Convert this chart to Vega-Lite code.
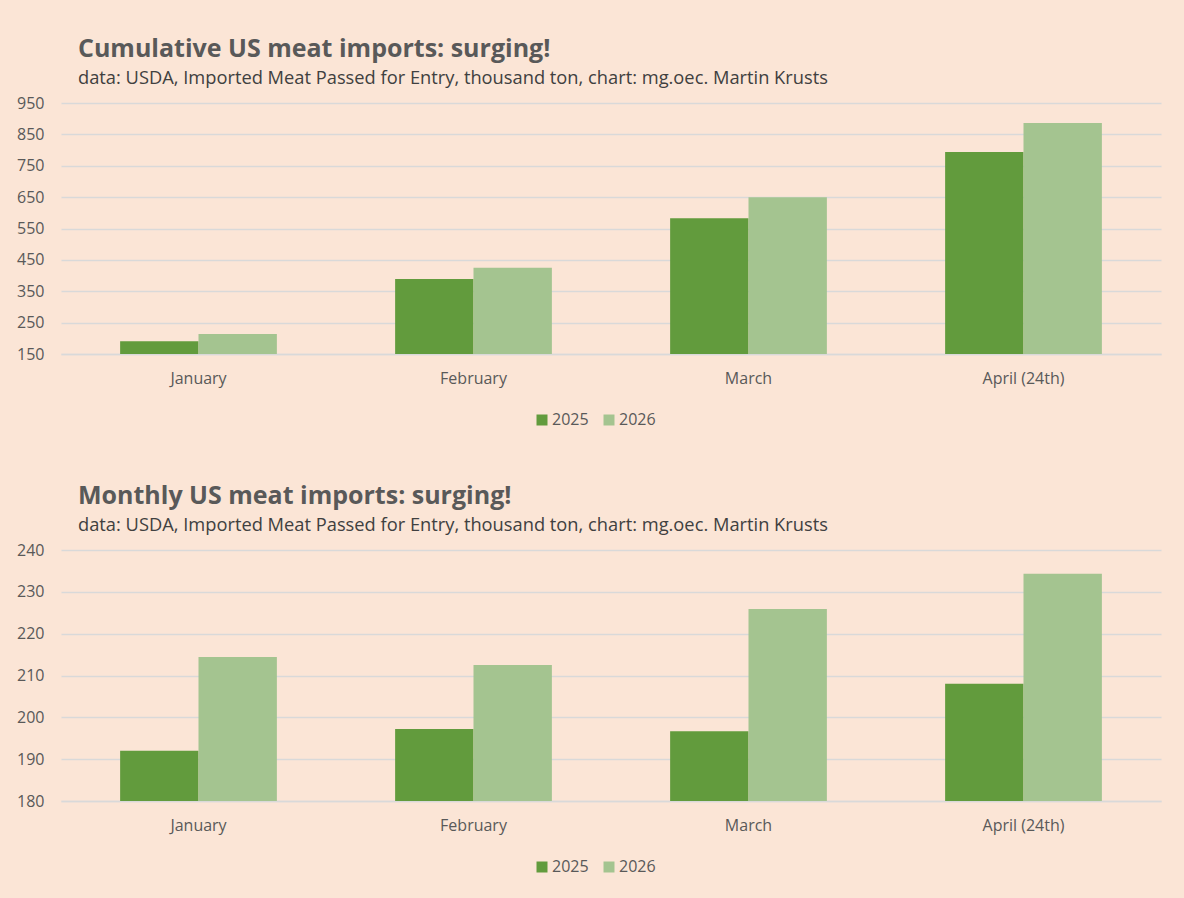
{
  "$schema": "https://vega.github.io/schema/vega-lite/v6.json",
  "background": "#FBE5D6",
  "padding": {"left": 16, "top": 36, "right": 23, "bottom": 25},
  "bounds": "flush",
  "spacing": 196,
  "datasets": {
    "cum": [
      {"month": "January", "year": "2025", "value": 191},
      {"month": "January", "year": "2026", "value": 214},
      {"month": "February", "year": "2025", "value": 389},
      {"month": "February", "year": "2026", "value": 425},
      {"month": "March", "year": "2025", "value": 583},
      {"month": "March", "year": "2026", "value": 650},
      {"month": "April (24th)", "year": "2025", "value": 794},
      {"month": "April (24th)", "year": "2026", "value": 886}
    ],
    "mon": [
      {"month": "January", "year": "2025", "value": 192.0},
      {"month": "January", "year": "2026", "value": 214.4},
      {"month": "February", "year": "2025", "value": 197.2},
      {"month": "February", "year": "2026", "value": 212.5},
      {"month": "March", "year": "2025", "value": 196.7},
      {"month": "March", "year": "2026", "value": 225.9},
      {"month": "April (24th)", "year": "2025", "value": 208.0},
      {"month": "April (24th)", "year": "2026", "value": 234.3}
    ]
  },
  "config": {
    "font": "Open Sans",
    "view": {"stroke": null},
    "title": {
      "anchor": "start",
      "frame": "group",
      "dx": 17,
      "fontSize": 25,
      "fontWeight": "bold",
      "color": "#595959",
      "subtitleFontSize": 18.3,
      "subtitleColor": "#404040",
      "subtitlePadding": 8,
      "offset": 8
    },
    "axis": {
      "labelFont": "Open Sans",
      "labelFontSize": 16,
      "labelColor": "#595959",
      "ticks": false,
      "title": null,
      "gridColor": "#D9D9D9",
      "gridWidth": 1.6,
      "domainColor": "#D9D9D9",
      "domainWidth": 1.6
    },
    "legend": {
      "labelFontSize": 16,
      "labelColor": "#595959",
      "symbolType": "square",
      "symbolSize": 121,
      "symbolStrokeWidth": 0,
      "direction": "horizontal",
      "orient": "none",
      "legendX": 473,
      "legendY": 309,
      "columnPadding": 12,
      "labelOffset": 2,
      "title": null
    }
  },
  "resolve": {"legend": {"color": "independent"}},
  "vconcat": [
    {
      "title": {"text": "Cumulative US meat imports: surging!", "subtitle": "data: USDA, Imported Meat Passed for Entry, thousand ton, chart: mg.oec. Martin Krusts"},
      "data": {"name": "cum"},
      "width": 1100,
      "height": 251,
      "mark": {"type": "bar", "clip": true},
      "encoding": {
        "x": {"field": "month", "type": "nominal", "sort": ["January", "February", "March", "April (24th)"],
          "scale": {"paddingInner": 0.43, "paddingOuter": 0.215},
          "axis": {"labelAngle": 0, "labelPadding": 16, "domain": true}},
        "xOffset": {"field": "year", "type": "nominal", "scale": {"paddingInner": 0}},
        "y": {"field": "value", "type": "quantitative",
          "scale": {"domain": [150, 950], "zero": false, "nice": false},
          "axis": {"values": [150, 250, 350, 450, 550, 650, 750, 850, 950], "domain": false, "labelPadding": 17, "grid": true}},
        "y2": {"datum": 150},
        "color": {"field": "year", "type": "nominal", "scale": {"domain": ["2025", "2026"], "range": ["#629B3D", "#A4C490"]}}
      }
    },
    {
      "title": {"text": "Monthly US meat imports: surging!", "subtitle": "data: USDA, Imported Meat Passed for Entry, thousand ton, chart: mg.oec. Martin Krusts"},
      "data": {"name": "mon"},
      "width": 1100,
      "height": 251,
      "mark": {"type": "bar", "clip": true},
      "encoding": {
        "x": {"field": "month", "type": "nominal", "sort": ["January", "February", "March", "April (24th)"],
          "scale": {"paddingInner": 0.43, "paddingOuter": 0.215},
          "axis": {"labelAngle": 0, "labelPadding": 16, "domain": true}},
        "xOffset": {"field": "year", "type": "nominal", "scale": {"paddingInner": 0}},
        "y": {"field": "value", "type": "quantitative",
          "scale": {"domain": [180, 240], "zero": false, "nice": false},
          "axis": {"values": [180, 190, 200, 210, 220, 230, 240], "domain": false, "labelPadding": 17, "grid": true}},
        "y2": {"datum": 180},
        "color": {"field": "year", "type": "nominal", "scale": {"domain": ["2025", "2026"], "range": ["#629B3D", "#A4C490"]}}
      }
    }
  ]
}
